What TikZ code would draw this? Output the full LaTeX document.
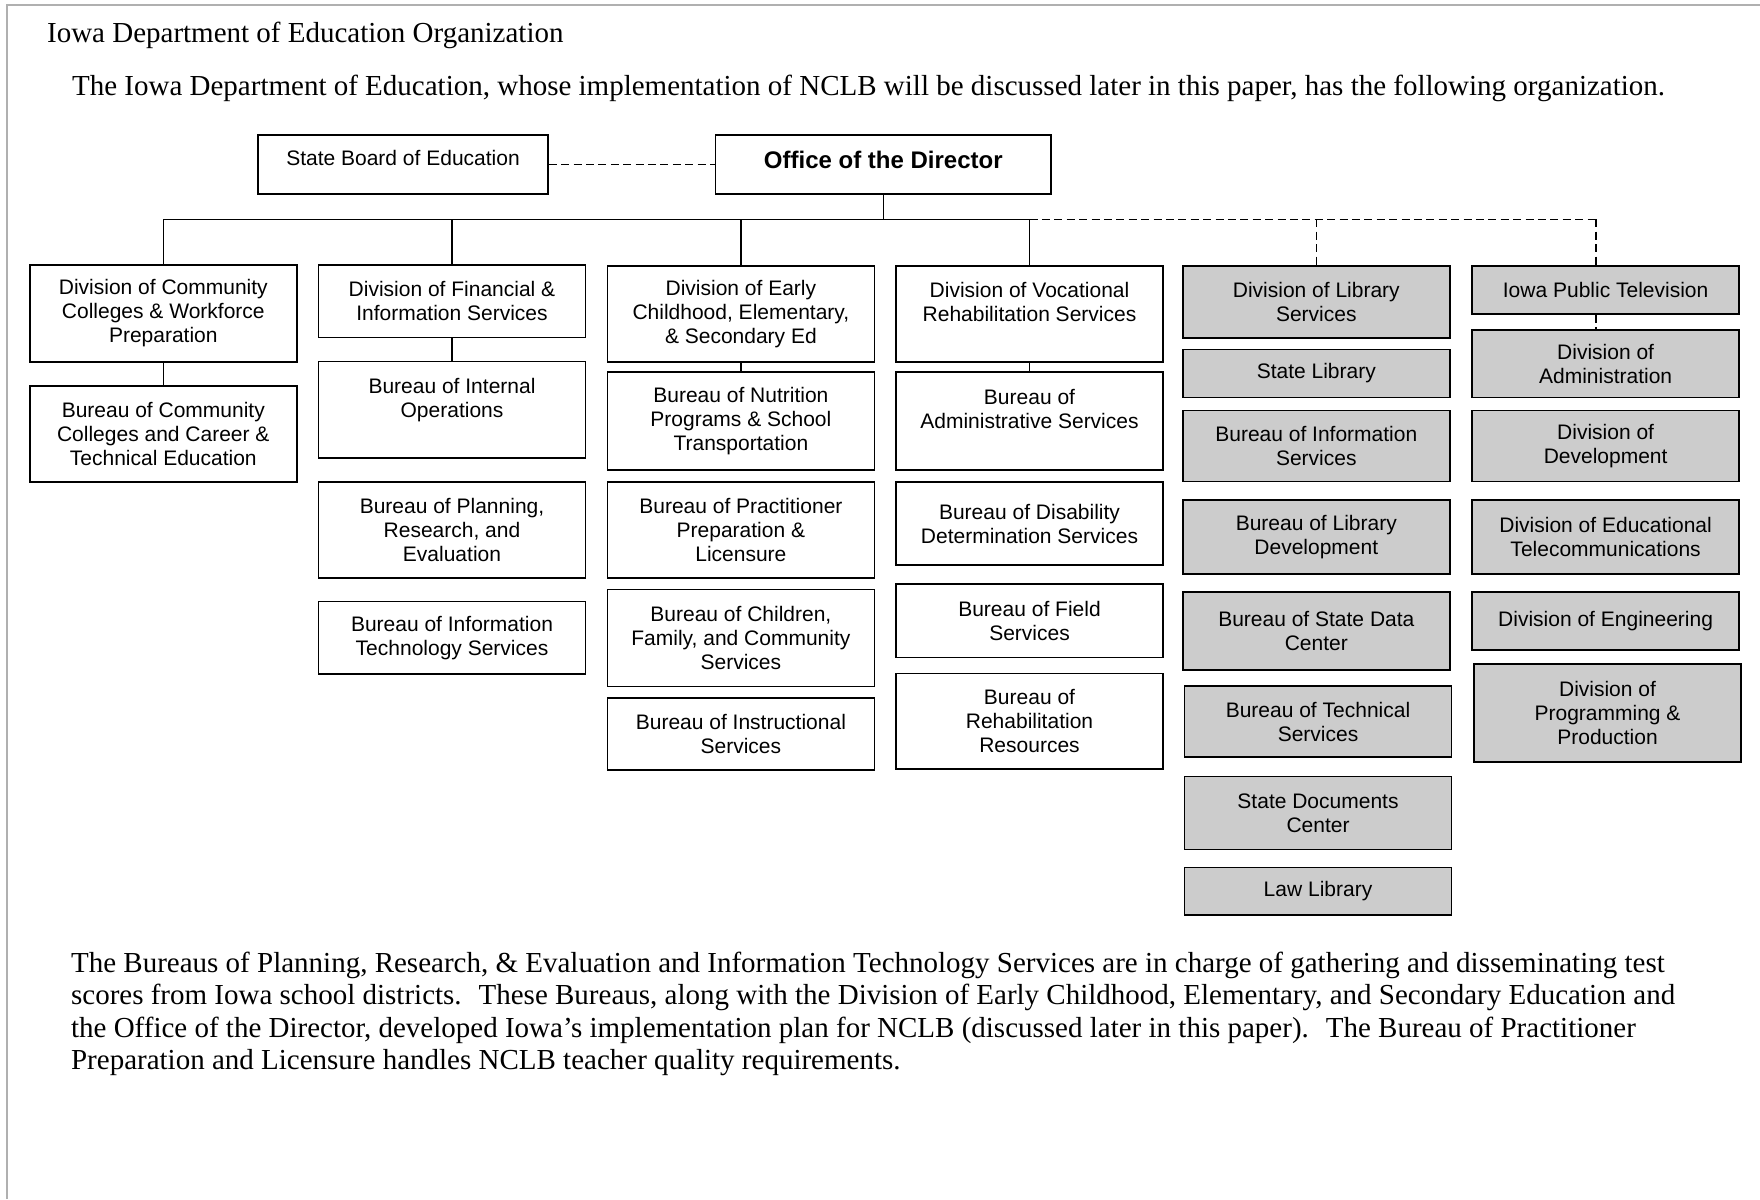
\documentclass[tikz,border=0pt]{standalone}
\usepackage{fontspec}
\setmainfont{Liberation Serif}
\setsansfont{Liberation Sans}
\usetikzlibrary{positioning}

\definecolor{unitgray}{RGB}{204,204,204}
\definecolor{pagerule}{RGB}{176,176,176}

\begin{document}
\begin{tikzpicture}[x=0.5pt, y=-0.5pt,
  unit/.style={draw, line width=0.8pt, align=center, inner sep=1pt,
    minimum width=133.5pt, font=\sffamily\fontsize{10.5}{12}\selectfont},
  attached/.style={unit, fill=unitgray},
  link/.style={line width=0.6pt},
  loose/.style={line width=0.6pt, dash pattern=on 4pt off 2.2pt},
  prose/.style={anchor=base west, inner sep=0pt, font=\fontsize{14.5}{16.5}\selectfont}]
  \useasboundingbox (0,0) rectangle (1760,1199);
  \draw[pagerule, line width=1pt] (7,1199) -- (7,5) -- (1760,5);

  \node[prose] (title) at (46.7,42.3) {Iowa Department of Education Organization};
  \node[prose] (intro) at (71.7,95) {The Iowa Department of Education, whose implementation of NCLB will be discussed later in this paper, has the following organization.};

  % top of the chart
  \node[unit, minimum width=145pt, minimum height=29.5pt, text depth=6.8pt] (board) at (403,164.5) {State Board of Education};
  \node[unit, minimum width=167.75pt, minimum height=29.5pt, text depth=4.5pt,
    font=\sffamily\bfseries\fontsize{12}{14}\selectfont] (director) at (883.3,164.5) {Office of the Director};
  \draw[loose] (board) -- (director);

  % divisions and bureaus
  \node[unit, minimum height=48.5pt] (divcc) at (163.3,313.5) {Division of Community\\Colleges \& Workforce\\Preparation};
  \node[unit, minimum height=48pt] (burcc) at (163.3,434) {Bureau of Community\\Colleges and Career \&\\Technical Education};

  \node[unit, minimum height=36.25pt] (divfin) at (452,301.3) {Division of Financial \&\\Information Services};
  \node[unit, minimum height=48.25pt] (burops) at (452,409.6) {Bureau of Internal\\Operations\\\mbox{}};
  \node[unit, minimum height=48pt] (burplan) at (452,529.9) {Bureau of Planning,\\Research, and\\Evaluation};
  \node[unit, minimum height=36.3pt] (burtech) at (452,637.7) {Bureau of Information\\Technology Services};

  \node[unit, minimum height=48.2pt] (divece) at (740.9,313.9) {Division of Early\\Childhood, Elementary,\\\& Secondary Ed};
  \node[unit, minimum height=49pt] (burnut) at (740.9,420.9) {Bureau of Nutrition\\Programs \& School\\Transportation};
  \node[unit, minimum height=48pt] (burprac) at (740.9,529.9) {Bureau of Practitioner\\Preparation \&\\Licensure};
  \node[unit, minimum height=48.4pt] (burfam) at (740.9,638) {Bureau of Children,\\Family, and Community\\Services};
  \node[unit, minimum height=36pt] (burinst) at (740.9,734) {Bureau of Instructional\\Services};

  \node[unit, minimum height=48pt] (divvoc) at (1029.5,314) {Division of Vocational\\Rehabilitation Services\\\mbox{}};
  \node[unit, minimum height=49pt] (buradm) at (1029.5,421) {Bureau of\\Administrative Services\\\mbox{}};
  \node[unit, minimum height=41.5pt] (burdis) at (1029.5,523.5) {Bureau of Disability\\Determination Services};
  \node[unit, minimum height=36.8pt] (burfld) at (1029.5,620.8) {Bureau of Field\\Services};
  \node[unit, minimum height=47.7pt] (burreh) at (1029.5,721.3) {Bureau of\\Rehabilitation\\Resources};

  % attached units (grey)
  \node[attached, minimum height=36pt] (divlib) at (1316.3,302) {Division of Library\\Services};
  \node[attached, minimum height=23.85pt] (statelib) at (1316.3,373.5) {State Library};
  \node[attached, minimum height=35.5pt] (burinf) at (1316.3,446) {Bureau of Information\\Services};
  \node[attached, minimum height=37pt] (burlib) at (1316.3,537) {Bureau of Library\\Development};
  \node[attached, minimum height=39pt] (burdata) at (1316.3,630.7) {Bureau of State Data\\Center};
  \node[attached, minimum height=35.75pt] (burtec) at (1318,721.5) {Bureau of Technical\\Services};
  \node[attached, minimum height=36.65pt] (statedoc) at (1318,813) {State Documents\\Center};
  \node[attached, minimum height=23.75pt] (lawlib) at (1318,891.3) {Law Library};

  \node[attached, minimum height=23.85pt] (iptv) at (1605.6,289.9) {Iowa Public Television};
  \node[attached, minimum height=33.8pt] (divadm) at (1605.6,363.6) {Division of\\Administration};
  \node[attached, minimum height=35.5pt] (divdev) at (1605.6,446) {Division of\\Development};
  \node[attached, minimum height=37pt] (divtel) at (1605.6,537) {Division of Educational\\Telecommunications};
  \node[attached, minimum height=29pt] (diveng) at (1605.6,620.8) {Division of Engineering};
  \node[attached, minimum height=48.85pt] (divprod) at (1607.5,712.9) {Division of\\Programming \&\\Production};

  % connectors
  \coordinate (bus) at (883.3,219.3);
  \coordinate (tv) at (1596,219.3);
  \draw[link] (director.south) -- (bus);
  \draw[link, line width=0.8pt] (divcc.north |- bus) -- (divvoc.north |- bus);
  \foreach \d in {divcc, divfin, divece, divvoc}
    \draw[link] (\d.north |- bus) -- (\d.north);
  \draw[loose] (divvoc.north |- bus) -- (tv);
  \draw[loose] (divlib.north |- bus) -- (divlib.north);
  \draw[loose] (tv) -- (tv |- iptv.north);
  \draw[loose] (tv |- iptv.south) -- (tv |- divadm.north);
  \draw[link] (divcc) -- (burcc);
  \draw[link] (divfin) -- (burops);
  \draw[link] (divece) -- (burnut);
  \draw[link] (divvoc) -- (buradm);

  \node[prose] (para1) at (70.7,972) {The Bureaus of Planning, Research, \& Evaluation and Information Technology Services are in charge of gathering and disseminating test};
  \node[prose] (para2) at (70.7,1004) {scores from Iowa school districts.~ These Bureaus, along with the Division of Early Childhood, Elementary, and Secondary Education and};
  \node[prose] (para3) at (70.7,1037) {the Office of the Director, developed Iowa’s implementation plan for NCLB (discussed later in this paper).~ The Bureau of Practitioner};
  \node[prose] (para4) at (70.7,1069) {Preparation and Licensure handles NCLB teacher quality requirements.};
\end{tikzpicture}
\end{document}
